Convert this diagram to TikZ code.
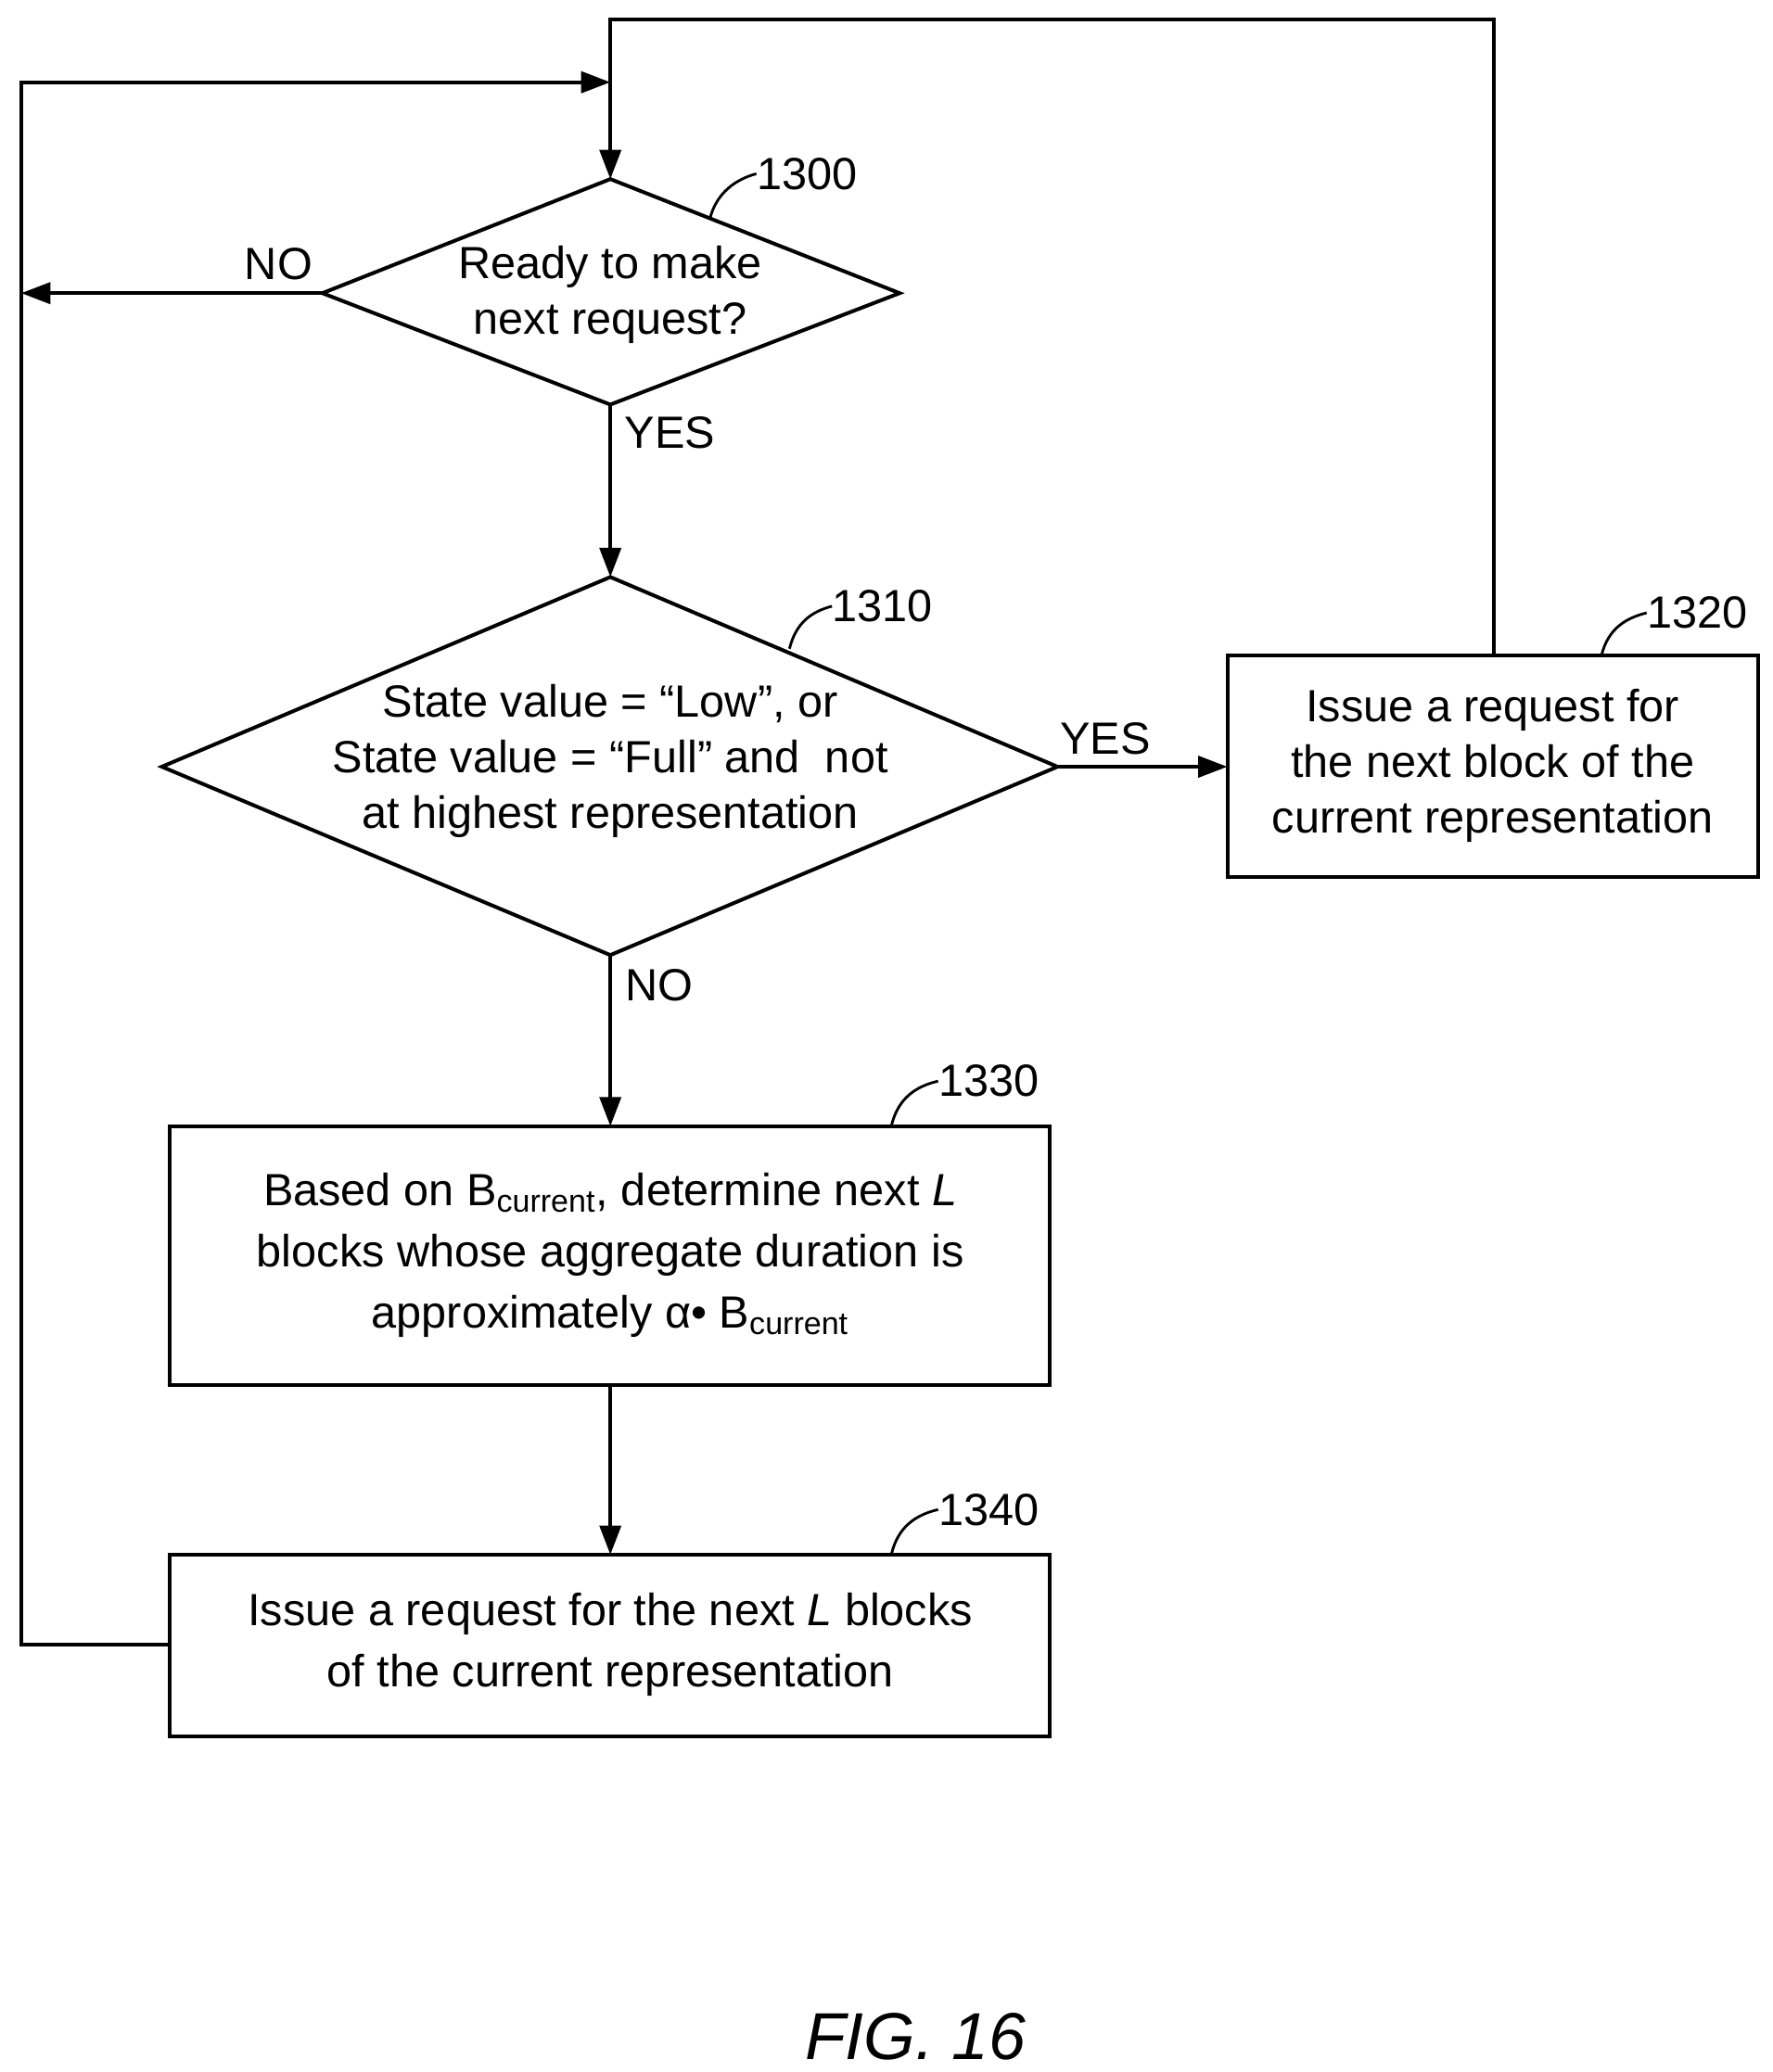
\documentclass[tikz,border=0pt]{standalone}
\usepackage{fontspec}
\setmainfont{Liberation Sans}
\usetikzlibrary{arrows.meta}
\begin{document}
\begin{tikzpicture}[x=0.5pt,y=-0.5pt,
  line/.style={line width=1.4pt},
  arr/.style={line width=1.4pt,-{Triangle[length=11pt,width=8pt]}},
  txt/.style={font=\fontsize{17}{21}\selectfont,align=center,inner sep=0},
  lbl/.style={font=\fontsize{17}{20}\selectfont,inner sep=0},
  box/.style={draw,line width=1.4pt}]
\useasboundingbox (0,0) rectangle (1336,1562);
% diamond 1300
\coordinate (d1t) at (460,135); \coordinate (d1b) at (460,305);
\coordinate (d1l) at (243,221); \coordinate (d1r) at (678,221);
\draw[line] (d1t)--(d1r)--(d1b)--(d1l)--cycle;
\node[txt] (t1300) at (460,222) {Ready to make\\next request?};
% diamond 1310
\coordinate (d2t) at (460,435); \coordinate (d2b) at (460,720);
\coordinate (d2l) at (122,578); \coordinate (d2r) at (797,578);
\draw[line] (d2t)--(d2r)--(d2b)--(d2l)--cycle;
\node[txt] (t1310) at (460,574) {State value = “Low”, or\\State value = “Full” and\ \ not\\at highest representation};
% boxes
\draw[box] (925,494) rectangle (1325,661);
\node[txt] (b1320) at (1125,577) {Issue a request for\\the next block of the\\current representation};
\draw[box] (128,849) rectangle (791,1044);
\node[txt,font=\fontsize{17}{23}\selectfont] (b1330) at (460,946) {Based on B\textsubscript{current}, determine next \textit{L}\\blocks whose aggregate duration is\\approximately α• B\textsubscript{current}};
\draw[box] (128,1172) rectangle (791,1309);
\node[txt,font=\fontsize{17}{23}\selectfont] (b1340) at (460,1240) {Issue a request for the next \textit{L} blocks\\of the current representation};
% connectors
\coordinate (c1) at (460,15); \coordinate (c2) at (1126,15); \coordinate (c3) at (1126,494);
\draw[arr] (c3)--(c2)--(c1)--(d1t);
\coordinate (l1) at (128,1240); \coordinate (l2) at (16,1240); \coordinate (l3) at (16,62); \coordinate (l4) at (460,62);
\draw[arr] (l1)--(l2)--(l3)--(l4);
\coordinate (nol) at (16,221);
\draw[arr] (d1l)--(nol);
\draw[arr] (d1b)--(d2t);
\coordinate (r1) at (925,578);
\draw[arr] (d2r)--(r1);
\coordinate (b30t) at (460,849); \coordinate (b30b) at (460,1044); \coordinate (b40t) at (460,1172);
\draw[arr] (d2b)--(b30t);
\draw[arr] (b30b)--(b40t);
% labels
\node[lbl] (no1) at (210,199) {NO};
\node[lbl] (yes1) at (505,326) {YES};
\node[lbl] (yes2) at (833,557) {YES};
\node[lbl] (no2) at (497,743) {NO};
\node[lbl,anchor=west] (n1300) at (570,131) {1300};
\node[lbl,anchor=west] (n1310) at (627,457) {1310};
\node[lbl,anchor=west] (n1320) at (1241,462) {1320};
\node[lbl,anchor=west] (n1330) at (707,815) {1330};
\node[lbl,anchor=west] (n1340) at (707,1138) {1340};
\draw[line,line width=1pt] (535,165) .. controls (540,145) and (555,135) .. (n1300.west);
\draw[line,line width=1pt] (595,489) .. controls (600,469) and (612,461) .. (n1310.west);
\draw[line,line width=1pt] (1207,494) .. controls (1212,474) and (1225,466) .. (n1320.west);
\draw[line,line width=1pt] (672,848) .. controls (677,828) and (690,819) .. (n1330.west);
\draw[line,line width=1pt] (672,1171) .. controls (677,1151) and (690,1142) .. (n1340.west);
\node[font=\fontsize{25}{30}\selectfont\itshape,inner sep=0] (fig) at (690,1535) {FIG. 16};
\end{tikzpicture}
\end{document}
